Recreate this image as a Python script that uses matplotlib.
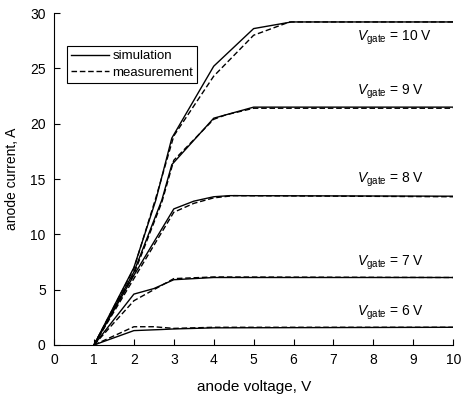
import numpy as np
import matplotlib.pyplot as plt

plt.rcParams.update(
    {
        "font.family": ["Liberation Sans", "DejaVu Sans"],
        "font.size": 10,
        "mathtext.fontset": "custom",
        "mathtext.rm": "Liberation Sans",
        "mathtext.it": "Liberation Sans:italic",
    }
)

# Curvas: simulación y medición para cada tensión de puerta
gates = [10, 9, 8, 7, 6]

x_sim = {
    10: [1, 2, 2.55, 2.95, 4, 5, 5.95, 10],
    9: [1, 2, 2.7, 2.95, 4, 4.3, 5, 10],
    8: [1, 2, 3, 3.5, 4, 4.4, 10],
    7: [1, 2, 2.5, 3, 4, 10],
    6: [1, 2, 2.7, 3, 4, 10],
}
y_sim = {
    10: [0, 7.0, 13.1, 18.7, 25.2, 28.6, 29.2, 29.2],
    9: [0, 6.6, 13.1, 16.3, 20.5, 20.8, 21.5, 21.5],
    8: [0, 6.3, 12.3, 13.0, 13.4, 13.5, 13.45],
    7: [0, 4.6, 5.1, 5.9, 6.1, 6.1],
    6: [0, 1.3, 1.4, 1.45, 1.55, 1.6],
}
x_meas = {
    10: [1, 2, 2.55, 3, 4, 5, 5.9, 10],
    9: [1, 2, 2.7, 3, 4, 4.3, 5, 10],
    8: [1, 2, 3, 3.5, 4, 4.5, 10],
    7: [1, 2, 2.5, 3, 4, 10],
    6: [1, 2, 2.5, 3, 4, 10],
}
y_meas = {
    10: [0, 6.9, 13.3, 18.9, 24.3, 28.0, 29.2, 29.2],
    9: [0, 6.4, 12.9, 16.7, 20.4, 20.8, 21.4, 21.4],
    8: [0, 6.0, 12.0, 12.8, 13.3, 13.5, 13.4],
    7: [0, 4.0, 5.0, 6.0, 6.15, 6.1],
    6: [0, 1.65, 1.65, 1.5, 1.6, 1.6],
}
label_y = {10: 27.8, 9: 22.9, 8: 14.9, 7: 7.4, 6: 2.9}

fig = plt.figure(figsize=(4.62, 3.97), dpi=100)
ax = fig.add_axes([0.117, 0.131, 0.864, 0.836])

for i, g in enumerate(gates):
    ax.plot(
        x_sim[g], y_sim[g], color="black", lw=1.0,
        label="simulation" if i == 0 else None,
    )
    ax.plot(
        x_meas[g], y_meas[g], color="black", lw=1.0, linestyle=(0, (4, 2)),
        label="measurement" if i == 0 else None,
    )
    ax.text(
        7.6, label_y[g], r"$V_{\mathrm{gate}}$" + f" = {g} V",
        fontsize=10, va="center", ha="left",
    )

ax.set_xlim(0, 10)
ax.set_ylim(0, 30)
ax.set_xticks(np.arange(0, 11, 1))
ax.set_yticks(np.arange(0, 31, 5))
ax.tick_params(direction="in", length=4, width=0.8, pad=6, labelsize=10)
ax.spines["top"].set_visible(False)
ax.spines["right"].set_visible(False)
ax.set_xlabel("anode voltage, V", fontsize=11, labelpad=9)
ax.set_ylabel("anode current, A", fontsize=10, labelpad=8)

leg = ax.legend(
    loc="upper left", bbox_to_anchor=(0.032, 0.90), borderaxespad=0,
    fancybox=False, edgecolor="black", framealpha=1, handlelength=2.9,
    borderpad=0.3, labelspacing=0.3, handletextpad=0.25, fontsize=9.5,
)
leg.get_frame().set_linewidth(0.8)

fig.savefig("out.png", dpi=100)
